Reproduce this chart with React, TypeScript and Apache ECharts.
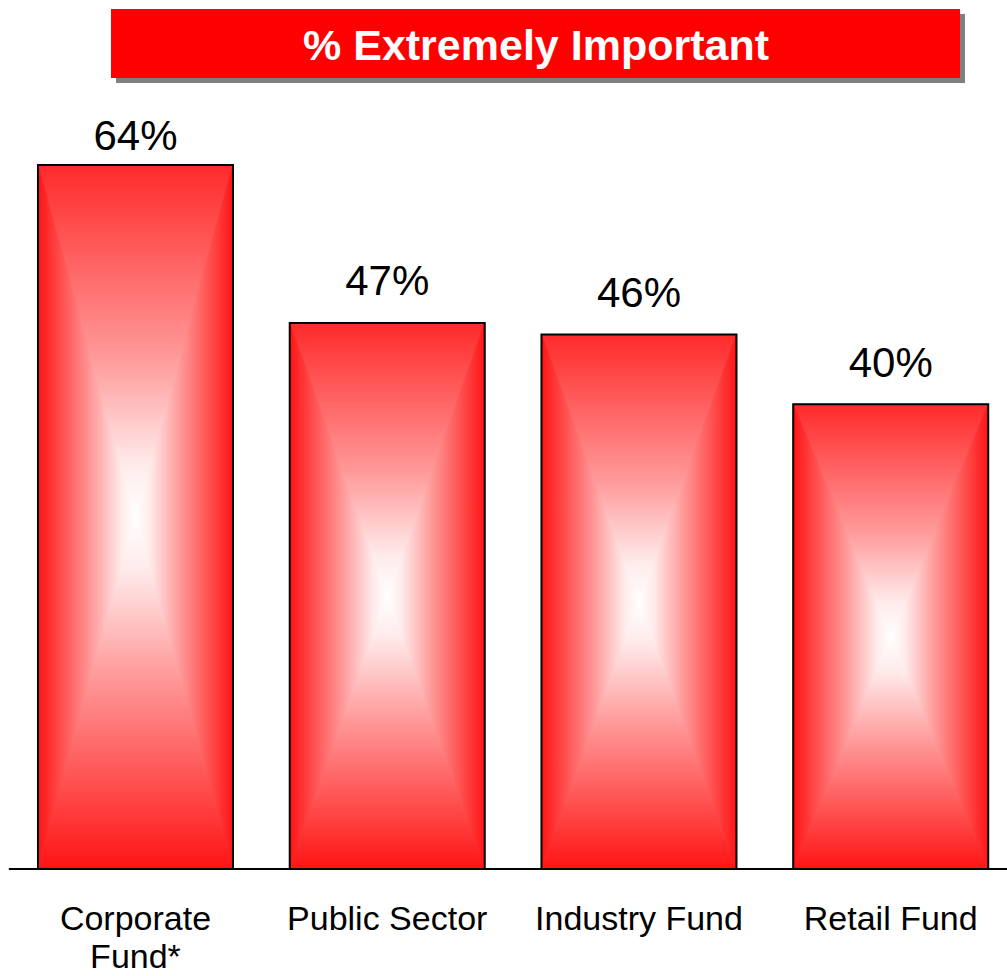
import React, { useEffect, useRef } from "react";
import * as echarts from "echarts";

const title = "% Extremely Important";
const categories = ["Corporate\nFund*", "Public Sector", "Industry Fund", "Retail Fund"];
const values = [64, 47, 46, 40];
const labelDistances = [9, 21, 21, 21];

export default function App() {
  const ref = useRef<HTMLDivElement>(null);
  useEffect(() => {
    const chart = echarts.init(ref.current!, undefined, { renderer: "svg" });
    const font = "'Liberation Sans', Arial, sans-serif";
    const edgeRed = "#ff1414";
    const barW = 195;

    const renderItem = (params: any, api: any) => {
      const idx = api.value(0);
      const val = api.value(1);
      const cs = params.coordSys;
      const top = api.coord([idx, val]);
      const base = api.coord([idx, 0]);
      const cxp = top[0];
      const x0 = cxp - barW / 2;
      const x1 = cxp + barW / 2;
      const y0 = Math.max(top[1], cs.y);
      const y1 = base[1];
      const cx = (x0 + x1) / 2;
      const cy = (y0 + y1) / 2;
      const grad = (gx: number, gy: number, gx2: number, gy2: number, c0: string) => ({
        type: "linear",
        x: gx,
        y: gy,
        x2: gx2,
        y2: gy2,
        global: true,
        colorStops: [
          { offset: 0, color: c0 },
          { offset: 0.55, color: "#ff9a9a" },
          { offset: 0.85, color: "#ffeaea" },
          { offset: 1, color: "#ffffff" },
        ],
      });
      const tri = (pts: number[][], g: any) => ({
        type: "polygon",
        shape: { points: pts },
        style: { fill: g, stroke: g, lineWidth: 1 },
      });
      return {
        type: "group",
        children: [
          tri([[x0, y0], [x1, y0], [cx, cy]], grad(cx, y0, cx, cy, "#ff2a2a")),
          tri([[x0, y1], [x1, y1], [cx, cy]], grad(cx, y1, cx, cy, edgeRed)),
          tri([[x0, y0], [x0, y1], [cx, cy]], grad(x0, cy, cx, cy, edgeRed)),
          tri([[x1, y0], [x1, y1], [cx, cy]], grad(x1, cy, cx, cy, edgeRed)),
          {
            type: "rect",
            shape: { x: x0, y: y0, width: x1 - x0, height: y1 - y0 },
            style: { fill: "none", stroke: "#000", lineWidth: 2 },
          },
          {
            type: "text",
            x: cxp,
            y: y0 - labelDistances[idx],
            style: {
              text: val + "%",
              fill: "#000",
              fontSize: 42,
              fontFamily: font,
              align: "center",
              verticalAlign: "bottom",
            },
          },
        ],
      };
    };

    chart.setOption({
      animation: false,
      backgroundColor: "#ffffff",
      grid: { left: 9.6, width: 1007, top: 165, bottom: 107, outerBoundsMode: "none", containLabel: false },
      xAxis: {
        type: "category",
        data: categories,
        axisLine: { show: true, lineStyle: { color: "#000", width: 2 } },
        axisTick: { show: false },
        axisLabel: {
          color: "#000",
          fontSize: 34,
          fontFamily: font,
          lineHeight: 38,
          margin: 30,
          interval: 0,
        },
      },
      yAxis: { type: "value", min: 0, max: 60.6, show: false, splitLine: { show: false } },
      series: [
        {
          type: "custom",
          renderItem,
          data: values.map((v, i) => [i, v]),
          encode: { x: 0, y: 1 },
          clip: false,
          z: 1,
        },
      ],
      graphic: [
        { type: "rect", shape: { x: 116, y: 14, width: 849, height: 69 }, style: { fill: "#808080" } },
        { type: "rect", shape: { x: 111, y: 9, width: 849, height: 69 }, style: { fill: "#ff0000" } },
        {
          type: "text",
          x: 536,
          y: 45,
          style: {
            text: title,
            fill: "#ffffff",
            fontSize: 43,
            fontWeight: "bold",
            fontFamily: font,
            align: "center",
            verticalAlign: "middle",
          },
        },
      ],
    });
    return () => chart.dispose();
  }, []);
  return (
    <div
      ref={ref}
      style={{ position: "absolute", left: 0, top: 0, width: 1007, height: 976 }}
    />
  );
}
